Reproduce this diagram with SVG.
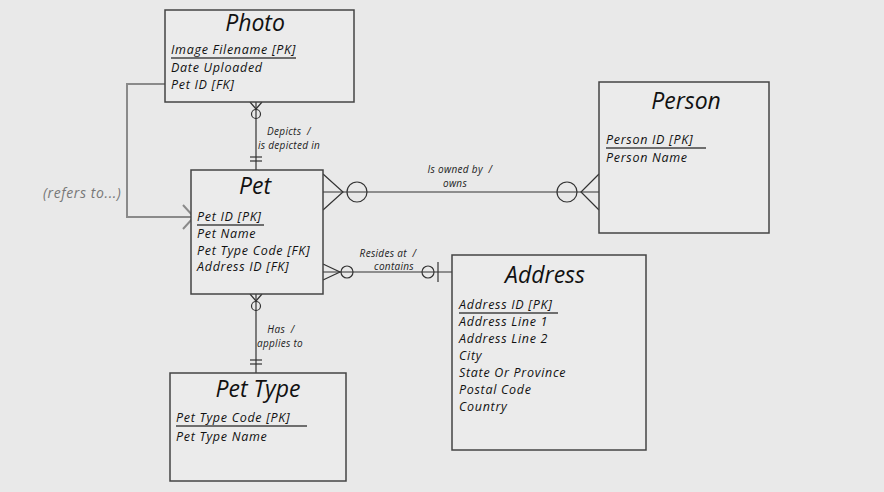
<svg xmlns="http://www.w3.org/2000/svg" width="884" height="492" viewBox="0 0 884 492">
<style>
.bg{fill:#e9e9e9}
.box{fill:#ebebeb;stroke:#444;stroke-width:1.5}
.title{font-family:"Open Sans","Liberation Sans",sans-serif;font-style:italic;font-size:23px;fill:#111;text-anchor:middle}
.attr{font-family:"Open Sans","Liberation Sans",sans-serif;font-style:italic;font-size:12.5px;fill:#111;letter-spacing:0.7px}
.pk{stroke:#444;stroke-width:1.5}
.lbl{font-family:"Open Sans","Liberation Sans",sans-serif;font-style:italic;font-size:10px;fill:#222;text-anchor:middle;letter-spacing:0.3px}
.ln{stroke:#333;stroke-width:1.2;fill:none}
.ref{stroke:#8a8a8a;stroke-width:2;fill:none}
.reft{font-family:"Open Sans","Liberation Sans",sans-serif;font-style:italic;font-size:14px;fill:#777;letter-spacing:0.6px}
</style>
<rect class="bg" x="0" y="0" width="884" height="492"/>
<g id="connectors">
  <!-- Photo - Pet -->
  <line class="ln" x1="256" y1="102" x2="256" y2="170"/>
  <polyline class="ln" points="250,102 256,109 262,102"/>
  <circle class="ln" cx="256" cy="114" r="4.5" fill="#ebebeb"/>
  <line class="ln" x1="250" y1="157" x2="262" y2="157"/>
  <line class="ln" x1="250" y1="161" x2="262" y2="161"/>
  <text class="lbl" x="289" y="135">Depicts&#160;&#160;/</text>
  <text class="lbl" x="289" y="149">is depicted in</text>
  <!-- Pet - Pet Type -->
  <line class="ln" x1="256" y1="294" x2="256" y2="373"/>
  <polyline class="ln" points="250,294 256,301 262,294"/>
  <circle class="ln" cx="256" cy="306" r="4.5" fill="#ebebeb"/>
  <line class="ln" x1="250" y1="360" x2="262" y2="360"/>
  <line class="ln" x1="250" y1="364" x2="262" y2="364"/>
  <text class="lbl" x="281" y="333">Has&#160;&#160;/</text>
  <text class="lbl" x="280" y="347">applies to</text>
  <!-- Pet - Person -->
  <line class="ln" x1="323" y1="192" x2="599" y2="192"/>
  <polyline class="ln" points="323,174 343,192 323,210"/>
  <circle class="ln" cx="357" cy="192" r="10" fill="#ebebeb"/>
  <polyline class="ln" points="599,174 581,192 599,210"/>
  <circle class="ln" cx="567" cy="192" r="10" fill="#ebebeb"/>
  <text class="lbl" x="460" y="173">Is owned by&#160;&#160;/</text>
  <text class="lbl" x="455" y="187">owns</text>
  <!-- Pet - Address -->
  <line class="ln" x1="323" y1="272" x2="452" y2="272"/>
  <polyline class="ln" points="323,264 340,272 323,280"/>
  <circle class="ln" cx="347" cy="272" r="6" fill="#ebebeb"/>
  <circle class="ln" cx="428" cy="272" r="6" fill="#ebebeb"/>
  <line class="ln" x1="438" y1="262" x2="438" y2="282"/>
  <text class="lbl" x="388" y="257">Resides at&#160;&#160;/</text>
  <text class="lbl" x="394" y="270">contains</text>
  <!-- refers to -->
  <polyline class="ref" points="165,84 127,84 127,217 193,217"/>
  <polyline class="ref" points="183,205 194,217 183,229"/>
  <text class="reft" x="43" y="198">(refers to...)</text>
</g>
<g id="photo">
  <rect class="box" x="165" y="10" width="189" height="92"/>
  <text class="title" x="255" y="31">Photo</text>
  <text class="attr" x="171" y="54">Image Filename [PK]</text>
  <line class="pk" x1="171" y1="58" x2="296" y2="58"/>
  <text class="attr" x="171" y="72">Date Uploaded</text>
  <text class="attr" x="171" y="89">Pet ID [FK]</text>
</g>
<g id="pet">
  <rect class="box" x="191" y="170" width="132" height="124"/>
  <text class="title" x="255" y="194">Pet</text>
  <text class="attr" x="197" y="221">Pet ID [PK]</text>
  <line class="pk" x1="197" y1="225" x2="264" y2="225"/>
  <text class="attr" x="197" y="238">Pet Name</text>
  <text class="attr" x="197" y="255">Pet Type Code [FK]</text>
  <text class="attr" x="197" y="271">Address ID [FK]</text>
</g>
<g id="person">
  <rect class="box" x="599" y="82" width="170" height="151"/>
  <text class="title" x="686" y="109">Person</text>
  <text class="attr" x="606" y="144">Person ID [PK]</text>
  <line class="pk" x1="606" y1="148" x2="706" y2="148"/>
  <text class="attr" x="606" y="162">Person Name</text>
</g>
<g id="address">
  <rect class="box" x="452" y="255" width="194" height="195"/>
  <text class="title" x="545" y="283">Address</text>
  <text class="attr" x="459" y="309">Address ID [PK]</text>
  <line class="pk" x1="459" y1="313" x2="558" y2="313"/>
  <text class="attr" x="459" y="326">Address Line 1</text>
  <text class="attr" x="459" y="343">Address Line 2</text>
  <text class="attr" x="459" y="360">City</text>
  <text class="attr" x="459" y="377">State Or Province</text>
  <text class="attr" x="459" y="394">Postal Code</text>
  <text class="attr" x="459" y="411">Country</text>
</g>
<g id="pet-type">
  <rect class="box" x="170" y="373" width="176" height="108"/>
  <text class="title" x="258" y="397">Pet Type</text>
  <text class="attr" x="176" y="422">Pet Type Code [PK]</text>
  <line class="pk" x1="176" y1="426" x2="307" y2="426"/>
  <text class="attr" x="176" y="441">Pet Type Name</text>
</g>
</svg>
